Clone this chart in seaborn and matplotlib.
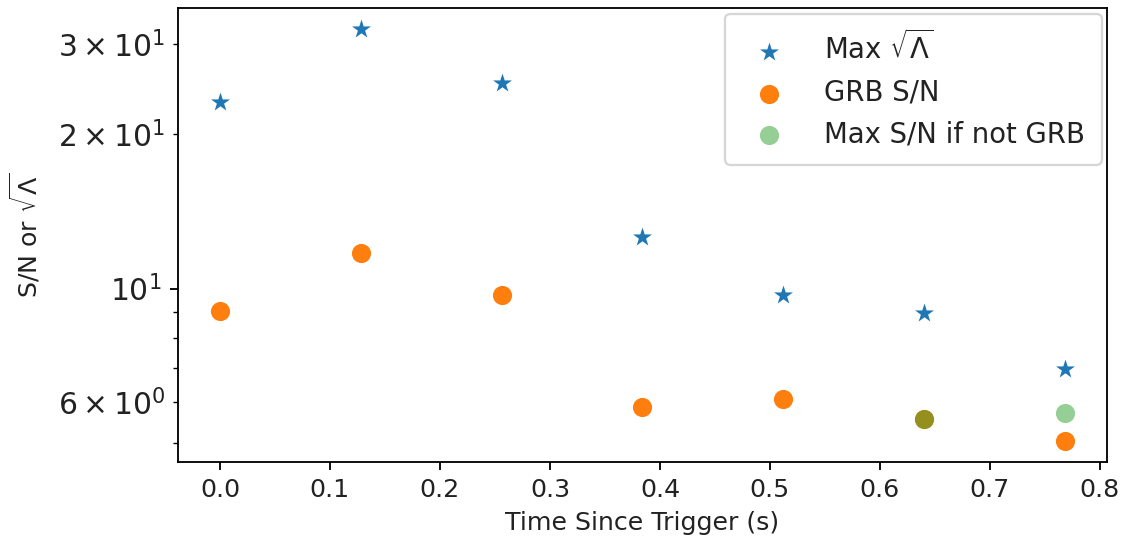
import matplotlib
matplotlib.use("Agg")
import matplotlib.pyplot as plt
import seaborn as sns
import pandas as pd
import numpy as np

times = [0.0, 0.128, 0.256, 0.384, 0.512, 0.640, 0.768]
max_sqrt_lambda = [23.1, 32.1, 25.2, 12.6, 9.73, 8.98, 6.97]
grb_snr = [9.06, 11.76, 9.73, 5.88, 6.09, 5.57, 5.04]
notgrb_times = [0.640, 0.768]
notgrb_snr = [5.57, 5.72]

dpi = 165
fig = plt.figure(figsize=(1125 / dpi, 546 / dpi), dpi=dpi)
ax = fig.add_axes([0.158, 0.154, 0.826, 0.831])

sns.scatterplot(x=times, y=max_sqrt_lambda, ax=ax, marker="*", s=75,
                color="#1f77b4", linewidth=0, label=r"Max $\sqrt{\Lambda}$")
sns.scatterplot(x=times, y=grb_snr, ax=ax, marker="o", s=70,
                color="#ff7f0e", linewidth=0, label="GRB S/N")
sns.scatterplot(x=notgrb_times, y=notgrb_snr, ax=ax, marker="o", s=70,
                color="#2ca02c", alpha=0.5, linewidth=0, label="Max S/N if not GRB")

ax.set_yscale("log")
ax.set_xlabel("Time Since Trigger (s)", fontsize=11, color="#222222")
ax.set_ylabel(r"S/N or $\sqrt{\Lambda}$", fontsize=11, color="#222222")
ax.yaxis.set_label_coords(-0.146, 0.5)
ax.tick_params(axis="x", labelsize=11, labelcolor="#222222")
ax.tick_params(axis="y", which="both", labelsize=13, labelcolor="#222222")
leg = ax.legend(loc="upper right", fontsize=12, scatterpoints=1, borderpad=0.6,
                labelspacing=0.5, handletextpad=1.0, borderaxespad=0.2)
for t in leg.get_texts():
    t.set_color("#222222")

fig.savefig("out.png", dpi=dpi)
